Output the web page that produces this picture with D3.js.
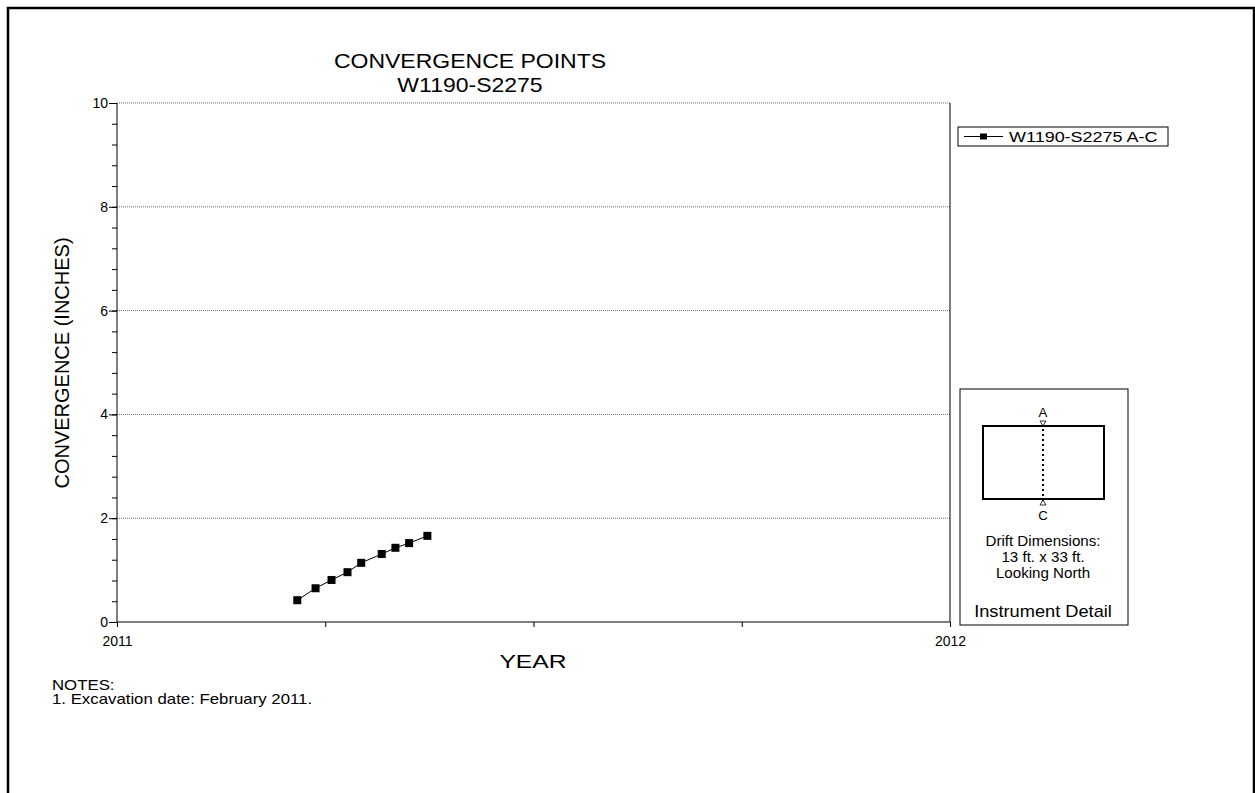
<!DOCTYPE html>
<html>
<head>
<meta charset="utf-8">
<script src="https://cdn.jsdelivr.net/npm/d3@7"></script>
<style>
  html, body { margin: 0; padding: 0; background: #fff; }
  svg { display: block; font-family: Arial, "Liberation Sans", sans-serif; }
</style>
</head>
<body>
<svg id="chart" width="1255" height="793"></svg>
<script>
// Readings for convergence point pair A-C
const readingDates = ["2011-03-21", "2011-03-29", "2011-04-05", "2011-04-12", "2011-04-18",
                      "2011-04-27", "2011-05-03", "2011-05-09", "2011-05-17"];
const convergence = [0.42, 0.65, 0.81, 0.96, 1.14, 1.31, 1.43, 1.52, 1.66];

const yTicks = [0, 2, 4, 6, 8, 10];
const yGridValues = [2, 4, 6, 8, 10];
const xTickValues = [2011, 2011.25, 2011.5, 2011.75, 2012];
const xTickLabels = ["2011", "", "", "", "2012"];

const titleLines = ["CONVERGENCE POINTS", "W1190-S2275"];
const seriesName = "W1190-S2275 A-C";
const notes = ["NOTES:", "1. Excavation date: February 2011."];
const detailLines = ["Drift Dimensions:", "13 ft. x 33 ft.", "Looking North"];

// decimal year from an ISO date
function decimalYear(s) {
  const d = new Date(s + "T00:00:00Z");
  const yr = d.getUTCFullYear();
  const start = Date.UTC(yr, 0, 1), end = Date.UTC(yr + 1, 0, 1);
  return yr + (d - start) / (end - start);
}

const points = readingDates.map((d, i) => ({ x: decimalYear(d), y: convergence[i] }));

const svg = d3.select("#chart");
const plotLeft = 117, plotRight = 950, plotTop = 103, plotBottom = 622;
const FONT = "Arial, 'Liberation Sans', sans-serif";

// text drawn slightly widened, as in the printed report
function label(parent, px, py, str, size, anchor, sx) {
  return parent.append("text")
    .attr("transform", `translate(${px},${py}) scale(${sx},1)`)
    .attr("text-anchor", anchor || "start")
    .attr("font-size", size)
    .attr("fill", "#000")
    .text(str);
}

const x = d3.scaleLinear().domain([2011, 2012]).range([plotLeft, plotRight]);
const y = d3.scaleLinear().domain([0, 10]).range([plotBottom, plotTop]);

// page frame
svg.append("rect")
  .attr("x", 8).attr("y", 8).attr("width", 1246).attr("height", 820)
  .attr("fill", "none").attr("stroke", "#000").attr("stroke-width", 2.5);

// title
titleLines.forEach((t, i) => label(svg, 470, 68 + i * 24, t, 20, "middle", 1.15));

// gridlines
svg.append("g").selectAll("line").data(yGridValues).enter().append("line")
  .attr("x1", plotLeft).attr("x2", plotRight)
  .attr("y1", d => y(d)).attr("y2", d => y(d))
  .attr("stroke", "#666").attr("stroke-width", 1).attr("stroke-dasharray", "1,1");

// right frame edge
svg.append("line").attr("x1", plotRight).attr("x2", plotRight).attr("y1", plotTop).attr("y2", plotBottom)
  .attr("stroke", "#000").attr("stroke-width", 1);

// y axis with minor ticks every 0.4
const yMinor = svg.append("g").attr("transform", `translate(${plotLeft},0)`)
  .call(d3.axisLeft(y).tickValues(d3.range(0, 10.001, 0.4)).tickSize(5).tickFormat(""));
yMinor.select(".domain").remove();
const yMajor = svg.append("g").attr("transform", `translate(${plotLeft},0)`)
  .call(d3.axisLeft(y).tickValues(yTicks).tickSize(8).tickPadding(1).tickFormat(d3.format("d")));
yMajor.selectAll("text").attr("font-size", 14).attr("font-family", FONT).attr("fill", "#000");
yMajor.select(".domain").attr("d", `M0,${plotTop}V${plotBottom}`);

// x axis
const xAxisG = svg.append("g").attr("transform", `translate(0,${plotBottom})`)
  .call(d3.axisBottom(x).tickValues(xTickValues).tickSize(5).tickPadding(9)
    .tickFormat((d, i) => xTickLabels[i]));
xAxisG.selectAll("text").attr("font-size", 14).attr("font-family", FONT).attr("fill", "#000");
xAxisG.select(".domain").attr("d", `M${plotLeft},0H${plotRight}`);
svg.selectAll(".tick line, .domain").attr("stroke", "#000");

// axis titles
label(svg, 533, 668, "YEAR", 19, "middle", 1.3);
svg.append("text").attr("transform", "translate(69,363) rotate(-90)")
  .attr("text-anchor", "middle").attr("font-size", 20).text("CONVERGENCE (INCHES)");

// series line and markers
svg.append("path").datum(points)
  .attr("fill", "none").attr("stroke", "#000").attr("stroke-width", 1)
  .attr("d", d3.line().x(d => x(d.x)).y(d => y(d.y)));
svg.append("g").selectAll("rect").data(points).enter().append("rect")
  .attr("x", d => x(d.x) - 4).attr("y", d => y(d.y) - 4)
  .attr("width", 8).attr("height", 8).attr("fill", "#000");

// legend
const lg = svg.append("g");
lg.append("rect").attr("x", 958).attr("y", 127).attr("width", 210).attr("height", 19)
  .attr("fill", "#fff").attr("stroke", "#000").attr("stroke-width", 1);
lg.append("line").attr("x1", 964).attr("x2", 1003).attr("y1", 136.5).attr("y2", 136.5)
  .attr("stroke", "#000");
lg.append("rect").attr("x", 980).attr("y", 133.5).attr("width", 7).attr("height", 6).attr("fill", "#000");
label(lg, 1009, 142, seriesName, 15, "start", 1.2);

// instrument detail panel
const ip = svg.append("g");
ip.append("rect").attr("x", 960).attr("y", 389).attr("width", 168).attr("height", 236)
  .attr("fill", "#fff").attr("stroke", "#000").attr("stroke-width", 1);
ip.append("rect").attr("x", 983).attr("y", 426).attr("width", 121).attr("height", 73)
  .attr("fill", "none").attr("stroke", "#000").attr("stroke-width", 2);
ip.append("line").attr("x1", 1043).attr("x2", 1043).attr("y1", 424).attr("y2", 501)
  .attr("stroke", "#000").attr("stroke-width", 2).attr("stroke-dasharray", "2,3");
ip.append("path").attr("d", "M1040,421L1046,421L1043,426Z")
  .attr("fill", "#fff").attr("stroke", "#000").attr("stroke-width", 0.8);
ip.append("path").attr("d", "M1040,505L1046,505L1043,500Z")
  .attr("fill", "#fff").attr("stroke", "#000").attr("stroke-width", 0.8);
label(ip, 1043, 417, "A", 12, "middle", 1.1);
label(ip, 1043, 520, "C", 12, "middle", 1.1);
detailLines.forEach((t, i) => label(ip, 1043, 546 + i * 16, t, 14, "middle", 1.08));
label(ip, 1043, 617, "Instrument Detail", 16, "middle", 1.14);

// notes
notes.forEach((t, i) => label(svg, 52, 690 + i * 14, t, 14, "start", 1.2));
</script>
</body>
</html>
